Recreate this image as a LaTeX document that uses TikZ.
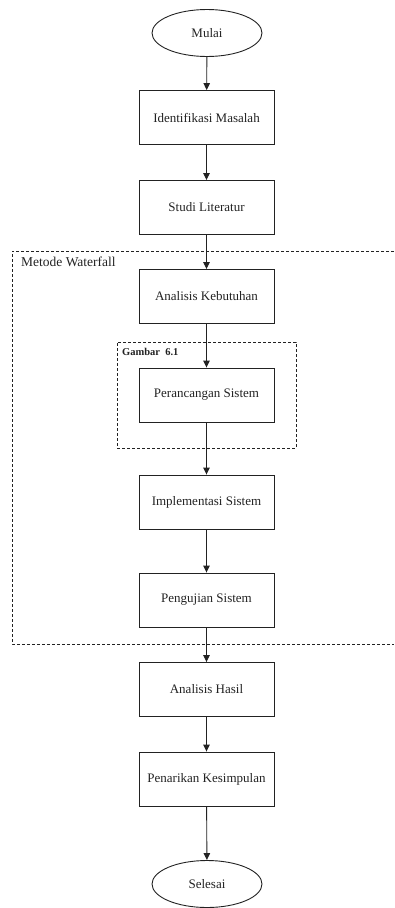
\documentclass[tikz,border=0pt]{standalone}
\usepackage{fontspec}
\setmainfont{Liberation Serif}
\usetikzlibrary{shapes.geometric,arrows.meta}
\definecolor{ink}{HTML}{222222}
\tikzset{
  stepbox/.style={draw=ink, line width=0.9pt, rectangle, minimum width=135pt, minimum height=54pt, inner sep=0pt, font=\fontsize{13}{15}\selectfont, text=ink},
  term/.style={draw=ink, line width=0.9pt, ellipse, minimum width=110pt, minimum height=47pt, inner sep=0pt, font=\fontsize{13}{15}\selectfont, text=ink},
  flow/.style={draw=ink, line width=0.9pt, -{Triangle[width=6.5pt,length=7pt]}},
  dashbox/.style={draw=ink, line width=0.9pt, dash pattern=on 3pt off 2pt},
}
\begin{document}
\begin{tikzpicture}[x=1pt,y=-1pt]
\useasboundingbox (0,0) rectangle (394,908);
% containers
\draw[dashbox] (394,251) -- (12,251) -- (12,644) -- (394,644);
\node[dashbox, rectangle, minimum width=179pt, minimum height=106pt, inner sep=0pt] (gambar) at (206.5,395) {};
\node[anchor=west, inner sep=0pt, font=\fontsize{13.5}{15}\selectfont, text=ink] (metode) at (21,262) {Metode Waterfall};
\node[anchor=west, inner sep=0pt, font=\bfseries\fontsize{10.5}{12}\selectfont, text=ink] (gambarlbl) at (122,351.5) {Gambar\ \ 6.1};
% nodes
\node[term] (mulai) at (207,33) {Mulai};
\node[stepbox] (ident) at (206.5,117.5) {Identifikasi Masalah};
\node[stepbox] (studi) at (206.5,207.5) {Studi Literatur};
\node[stepbox] (kebut) at (206.5,296.5) {Analisis Kebutuhan};
\node[stepbox] (ranc) at (206.5,395) {Perancangan Sistem};
\node[stepbox] (impl) at (206.5,502) {Implementasi Sistem};
\node[stepbox] (uji) at (206.5,600) {Pengujian Sistem};
\node[stepbox] (hasil) at (206.5,689.5) {Analisis Hasil};
\node[stepbox] (tarik) at (206.5,779) {Penarikan Kesimpulan};
\node[term] (selesai) at (207,884) {Selesai};
% connectors
\draw[flow] (mulai) -- (ident);
\draw[flow] (ident) -- (studi);
\draw[flow] (studi) -- (kebut);
\draw[flow] (kebut) -- (ranc);
\draw[flow] (ranc) -- (impl);
\draw[flow] (impl) -- (uji);
\draw[flow] (uji) -- (hasil);
\draw[flow] (hasil) -- (tarik);
\draw[flow] (tarik) -- (selesai);
\end{tikzpicture}
\end{document}
